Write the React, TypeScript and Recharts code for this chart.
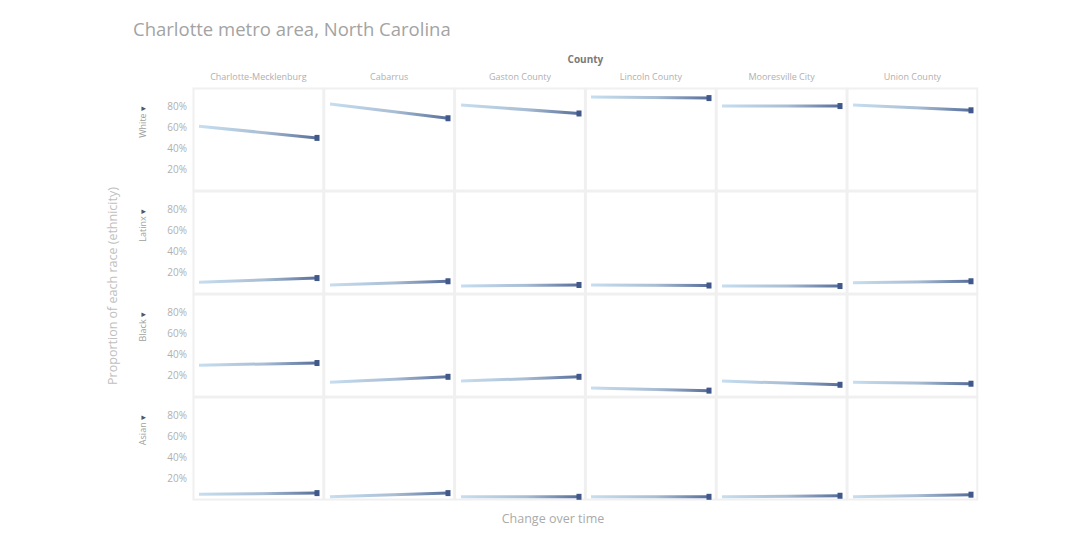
import { LineChart, Line, XAxis, YAxis } from "recharts";

const counties = [
  "Charlotte-Mecklenburg",
  "Cabarrus",
  "Gaston County",
  "Lincoln County",
  "Mooresville City",
  "Union County",
];
const groups = ["White", "Latinx", "Black", "Asian"];
const periods = ["Start", "End"];

// [start, end] share for each county, same order as counties
const white = [[0.61, 0.5], [0.82, 0.685], [0.81, 0.73], [0.885, 0.875], [0.8, 0.8], [0.81, 0.76]];
const latinx = [[0.11, 0.15], [0.085, 0.12], [0.075, 0.085], [0.085, 0.08], [0.075, 0.075], [0.105, 0.12]];
const black = [[0.3, 0.32], [0.14, 0.19], [0.15, 0.19], [0.085, 0.06], [0.15, 0.115], [0.14, 0.125]];
const asian = [[0.055, 0.065], [0.03, 0.065], [0.03, 0.03], [0.03, 0.03], [0.03, 0.04], [0.03, 0.05]];
const byGroup = [white, latinx, black, asian];

const yTicks = [0.2, 0.4, 0.6, 0.8];

const gridLeft = 193;
const gridTop = 88;
const cellW = 130.8;
const cellH = 103;
const axisW = 40;
const font = "'Open Sans', 'Noto Sans', sans-serif";

function EndDot(props: any) {
  const { cx, cy, index } = props;
  if (index !== periods.length - 1) return <g key={`d${index}`} />;
  return <rect key={`d${index}`} x={cx - 2.5} y={cy - 3} width={5} height={6} fill="#40598a" />;
}

function Panel({ row, col }: { row: number; col: number }) {
  const first = col === 0;
  const w = Math.round(cellW) + (first ? axisW : 0);
  const vals = byGroup[row][col];
  const data = periods.map((p, i) => ({ period: p, value: vals[i] }));
  const id = `grad-${row}-${col}`;
  const x0 = first ? axisW : 0;
  return (
    <div
      style={{
        position: "absolute",
        left: gridLeft + col * cellW - (first ? axisW : 0),
        top: gridTop + row * cellH,
      }}
    >
      <LineChart width={w} height={cellH} data={data} margin={{ top: 0, right: 0, bottom: 0, left: 0 }}>
        <defs>
          <linearGradient id={id} gradientUnits="userSpaceOnUse" x1={x0 + 6} y1={0} x2={w - 7} y2={0}>
            <stop offset="0%" stopColor="#c6def0" />
            <stop offset="55%" stopColor="#a9bdd3" />
            <stop offset="100%" stopColor="#566e9a" />
          </linearGradient>
        </defs>
        <XAxis dataKey="period" hide padding={{ left: 6, right: 7 }} />
        <YAxis
          hide={!first}
          width={axisW}
          domain={[0, 0.97]}
          ticks={yTicks}
          axisLine={false}
          tickLine={false}
          tickMargin={0}
          tick={{ fontSize: 10, fill: "#b0b0b0", fontFamily: font }}
          tickFormatter={(v: number) => `${Math.round(v * 100)}%`}
        />
        <Line
          type="linear"
          dataKey="value"
          stroke={`url(#${id})`}
          strokeWidth={3}
          dot={EndDot}
          activeDot={false}
          isAnimationActive={false}
        />
      </LineChart>
    </div>
  );
}

export default function App() {
  const gridW = cellW * counties.length;
  const gridH = cellH * groups.length;
  return (
    <div style={{ position: "absolute", left: 0, top: 0, width: 1080, height: 540, background: "#fff", fontFamily: font }}>
      <svg width={1080} height={540} style={{ position: "absolute", left: 0, top: 0 }}>
        <text x={133} y={36} fontSize={18.5} fill="#a3a3a3">
          Charlotte metro area, North Carolina
        </text>
        <text x={gridLeft + gridW / 2} y={63} fontSize={10} fontWeight="bold" fill="#7a7a7a" textAnchor="middle">
          County
        </text>
        {counties.map((c, i) => (
          <text key={c} x={gridLeft + cellW * (i + 0.5)} y={80} fontSize={9} fill="#b0b0b0" textAnchor="middle">
            {c}
          </text>
        ))}
        {counties.map((c, i) =>
          groups.map((g, j) => (
            <rect
              key={`${c}-${g}`}
              x={gridLeft + cellW * i + 0.5}
              y={gridTop + cellH * j + 0.5}
              width={cellW - 1}
              height={cellH - 1}
              fill="none"
              stroke="#f0f0f0"
              strokeWidth={2}
            />
          ))
        )}
        {groups.map((g, j) => (
          <text
            key={g}
            transform={`translate(146, ${gridTop + cellH * j + 18}) rotate(-90)`}
            fontSize={9}
            fill="#a0a0a0"
            textAnchor="end"
          >
            {g} <tspan fill="#556">▾</tspan>
          </text>
        ))}
        <text
          transform={`translate(117, ${gridTop + gridH / 2 - 8}) rotate(-90)`}
          fontSize={12.5}
          fill="#c0c0c0"
          textAnchor="middle"
        >
          Proportion of each race (ethnicity)
        </text>
        <text x={553} y={523} fontSize={12.5} fill="#aaa" textAnchor="middle">
          Change over time
        </text>
      </svg>
      {groups.map((g, j) => counties.map((c, i) => <Panel key={`${g}-${c}`} row={j} col={i} />))}
    </div>
  );
}
